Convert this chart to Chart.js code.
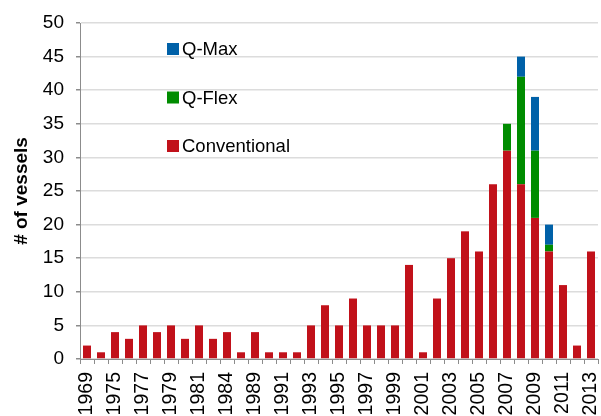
<!DOCTYPE html>
<html>
<head>
<meta charset="utf-8">
<script src="https://cdn.jsdelivr.net/npm/chart.js@4/dist/chart.umd.min.js"></script>
<style>
html,body{margin:0;padding:0;background:#fff;overflow:hidden;}
canvas{display:block;}
</style>
</head>
<body>
<canvas id="c" width="601" height="416"></canvas>
<script>
const years = ['1969','1972','1975','1976','1977','1978','1979','1980','1981','1983','1984','1986','1989','1990','1991','1992','1993','1994','1995','1996','1997','1998','1999','2000','2001','2002','2003','2004','2005','2006','2007','2008','2009','2010','2011','2012','2013'];
const conventional = [2,1,4,3,5,4,5,3,5,3,4,1,4,1,1,1,5,8,5,9,5,5,5,14,1,9,15,19,16,26,31,26,21,16,11,2,16];
const qflex = [0,0,0,0,0,0,0,0,0,0,0,0,0,0,0,0,0,0,0,0,0,0,0,0,0,0,0,0,0,0,4,16,10,1,0,0,0];
const qmax  = [0,0,0,0,0,0,0,0,0,0,0,0,0,0,0,0,0,0,0,0,0,0,0,0,0,0,0,0,0,0,0,3,8,3,0,0,0];
const seriesNames = ['Conventional','Q-Flex','Q-Max'];
const seriesColors = ['#C1111A','#008C00','#0061A8'];

const FONT = "'Liberation Sans', Arial, sans-serif";

const insideLegend = {
  id: 'insideLegend',
  afterDraw(chart) {
    const ctx = chart.ctx;
    ctx.save();
    ctx.font = '18.5px ' + FONT;
    ctx.textBaseline = 'middle';
    ctx.textAlign = 'left';
    const ds = chart.data.datasets.slice().reverse();
    const x0 = 167, y0 = 49, gap = 48.5;
    ds.forEach((d, i) => {
      const y = y0 + i * gap;
      ctx.fillStyle = d.backgroundColor;
      ctx.fillRect(x0, y - 6, 12, 12);
      ctx.fillStyle = '#000';
      ctx.fillText(d.label, x0 + 15, y + 1);
    });
    ctx.restore();
  }
};

new Chart(document.getElementById('c'), {
  type: 'bar',
  data: {
    labels: years,
    datasets: [
      {label: seriesNames[0], data: conventional, backgroundColor: seriesColors[0]},
      {label: seriesNames[1], data: qflex, backgroundColor: seriesColors[1]},
      {label: seriesNames[2], data: qmax, backgroundColor: seriesColors[2]}
    ]
  },
  options: {
    responsive: false,
    animation: false,
    devicePixelRatio: 1,
    events: [],
    layout: {padding: {top: 23, right: 3, bottom: 0, left: 0}},
    datasets: {bar: {barPercentage: 0.57, categoryPercentage: 1.0, borderWidth: 0}},
    plugins: {legend: {display: false}, tooltip: {enabled: false}, title: {display: false}},
    scales: {
      x: {
        stacked: true,
        offset: true,
        border: {display: true, color: '#8c8c8c', width: 1},
        grid: {display: true, drawOnChartArea: false, offset: true, tickLength: 5, color: '#8c8c8c'},
        ticks: {
          autoSkip: false, maxRotation: 90, minRotation: 90, padding: 8,
          color: '#000', font: {family: FONT, size: 19.5},
          callback: (v, i) => (i % 2 === 0 ? years[i] : '')
        },
        afterFit(s) { s.height = 57; s.paddingLeft = 0; s.paddingRight = 0; }
      },
      y: {
        stacked: true,
        min: 0, max: 50,
        border: {display: true, color: '#8c8c8c', width: 1},
        grid: {color: '#dcdcdc', lineWidth: 1.5, tickLength: 4, tickColor: '#8c8c8c'},
        ticks: {stepSize: 5, padding: 12, color: '#000', font: {family: FONT, size: 19}},
        title: {display: true, text: '# of vessels', color: '#000', font: {family: FONT, size: 19, weight: 'bold'}, padding: {top: 10, bottom: 0}},
        afterFit(s) { s.width = 80; s.paddingTop = 0; s.paddingBottom = 0; }
      }
    }
  },
  plugins: [insideLegend]
});
</script>
</body>
</html>
